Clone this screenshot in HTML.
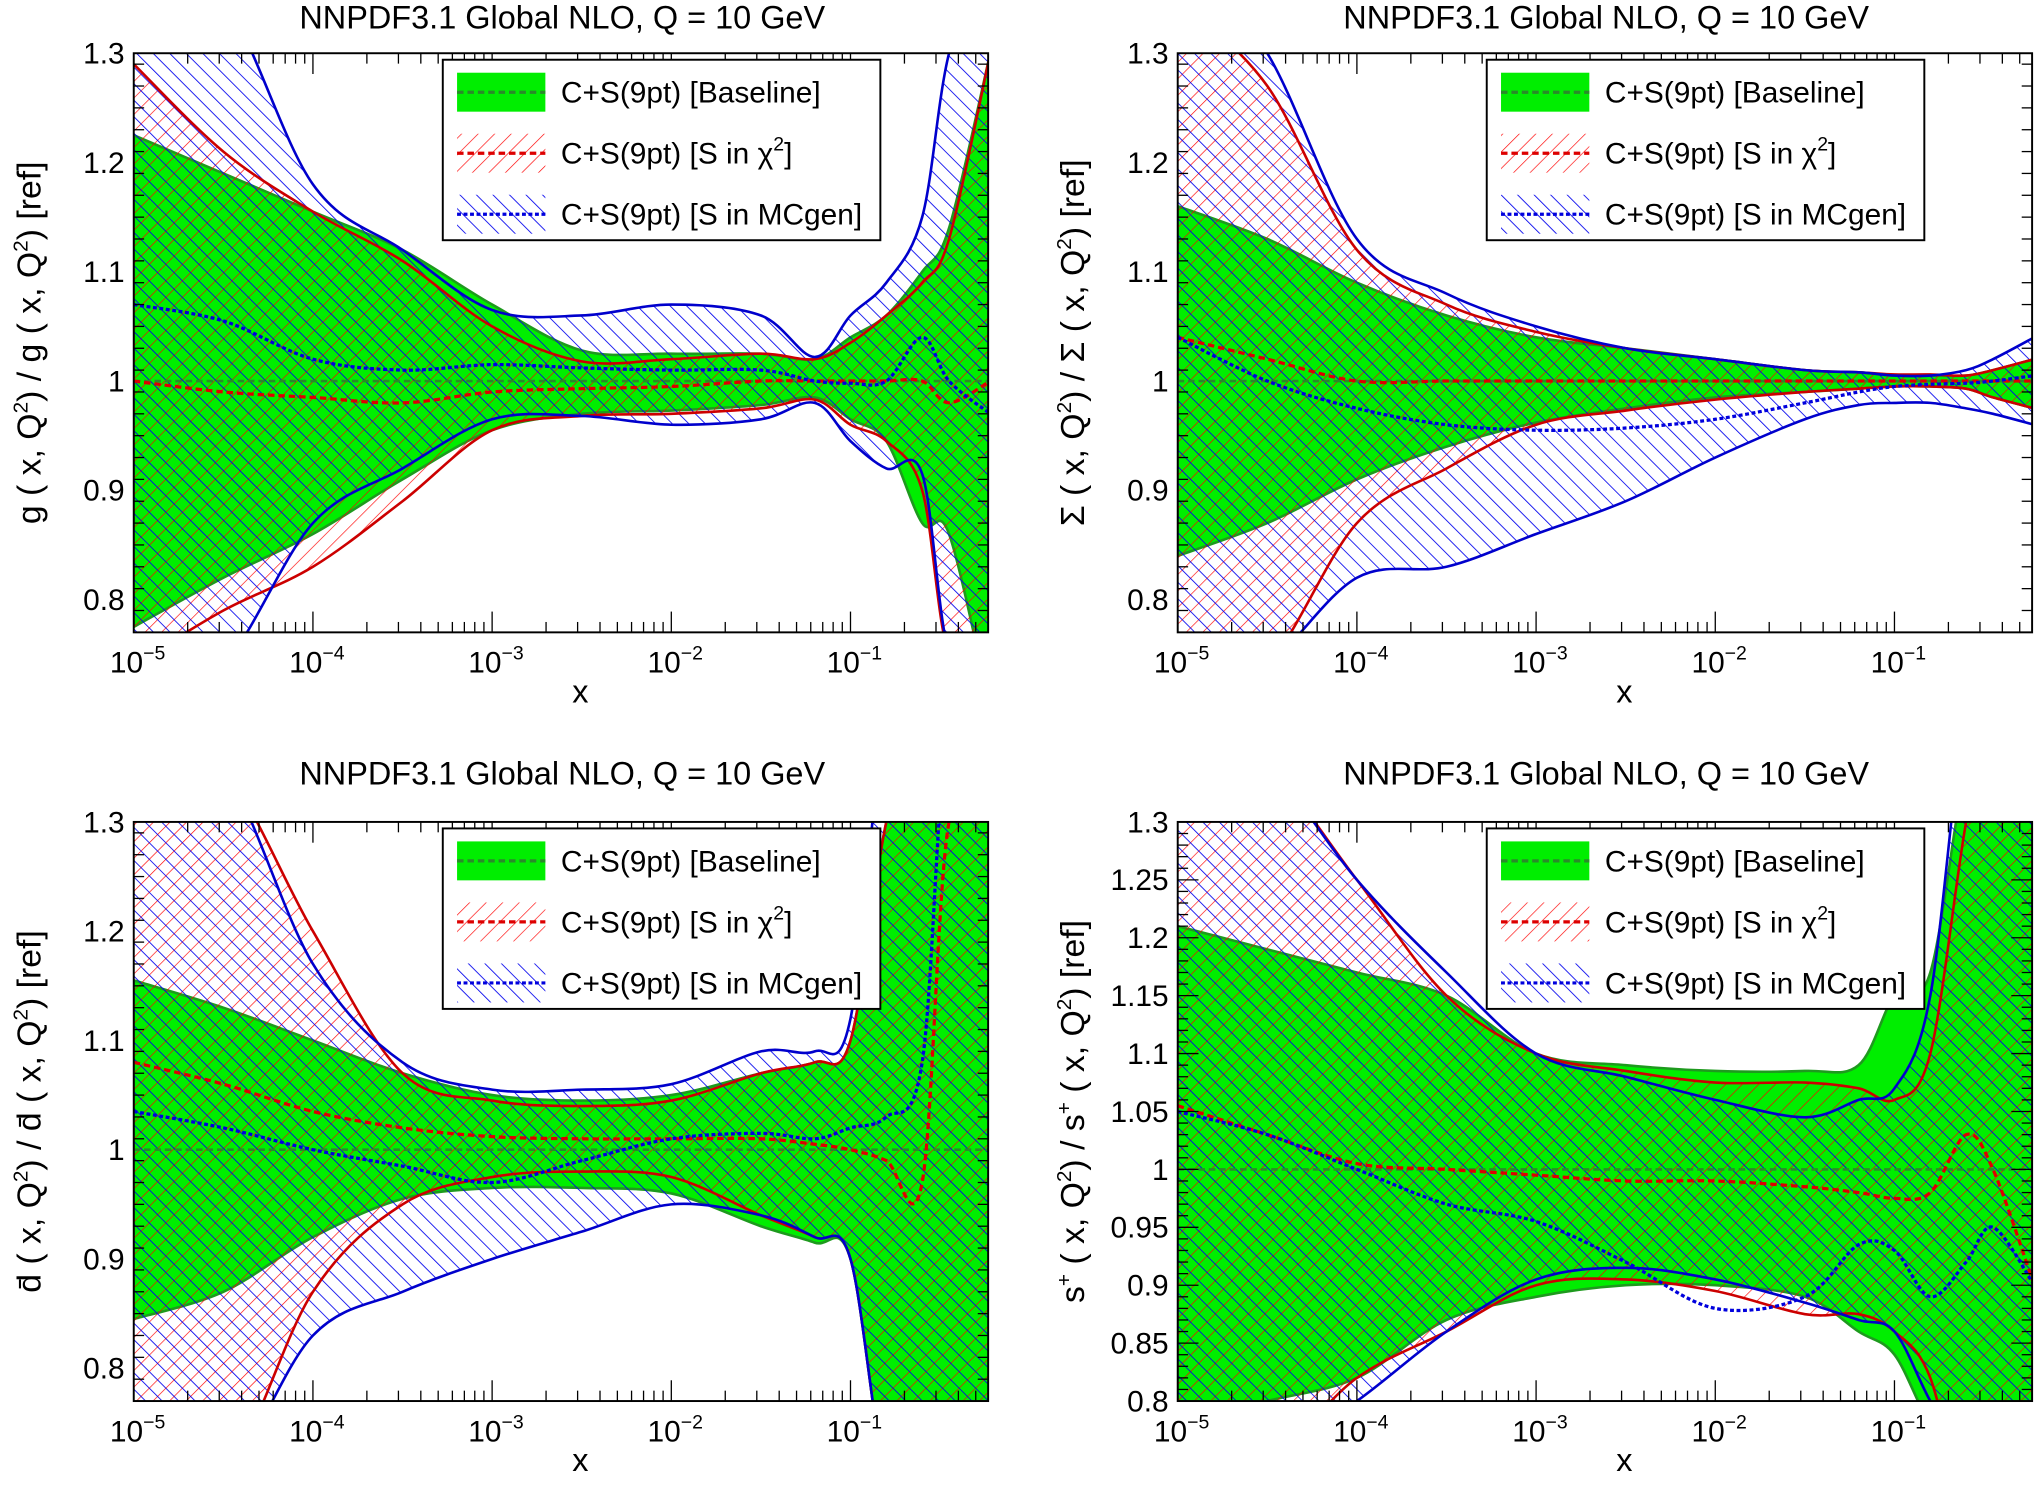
<!DOCTYPE html>
<html><head><meta charset="utf-8"><style>
html,body{margin:0;padding:0;background:#fff}
svg{display:block}
text{font-family:"Liberation Sans",sans-serif;fill:#000}
</style></head><body>
<svg id="fig" width="2036" height="1487" viewBox="0 0 1568 1145.2" xmlns="http://www.w3.org/2000/svg">
<defs>
<pattern id="hr" patternUnits="userSpaceOnUse" width="9" height="9" patternTransform="rotate(45)"><line x1="0" y1="0" x2="0" y2="9" stroke="#ff0000" stroke-width="1"/></pattern>
<pattern id="hb" patternUnits="userSpaceOnUse" width="9" height="9" patternTransform="rotate(-45)"><line x1="0" y1="0" x2="0" y2="9" stroke="#0000ee" stroke-width="1.3"/></pattern>
</defs>
</svg>
<script>
const xLog=[-5,-4.5,-4,-3.5,-3,-2.5,-2,-1.5,-1.2,-1,-0.8,-0.6,-0.45,-0.22];
// gluon
const gGreenUp=[1.225,1.19,1.155,1.12,1.07,1.028,1.025,1.025,1.02,1.04,1.06,1.1,1.14,1.3];
const gGreenLo=[0.775,0.82,0.86,0.91,0.955,0.97,0.973,0.978,0.985,0.965,0.945,0.87,0.86,0.7];
const gRedUp=[1.29,1.21,1.155,1.11,1.05,1.018,1.02,1.025,1.02,1.035,1.06,1.09,1.13,1.3];
const gRedLo=[0.74,0.79,0.83,0.89,0.955,0.968,0.97,0.975,0.983,0.96,0.945,0.9,0.75,0.75];
const gRedMid=[1.0,0.99,0.985,0.98,0.99,0.993,0.995,1.0,1.0,1.0,1.0,1.0,0.98,1.0];
const gBlueUp=[1.4,1.35,1.18,1.12,1.065,1.06,1.07,1.06,1.022,1.06,1.09,1.15,1.3,1.4];
const gBlueLo=[0.7,0.74,0.87,0.92,0.965,0.968,0.96,0.965,0.98,0.945,0.92,0.915,0.75,0.7];
const gBlueMid=[1.07,1.055,1.02,1.01,1.015,1.012,1.01,1.01,1.0,0.998,1.0,1.04,1.0,0.97];
// singlet
const sGreenUp=[1.16,1.13,1.09,1.06,1.04,1.03,1.02,1.01,1.008,1.005,1.005,1.005,1.01,1.02];
const sGreenLo=[0.84,0.87,0.91,0.94,0.962,0.975,0.985,0.99,0.993,0.995,0.995,0.993,0.985,0.975];
const sRedUp=[1.35,1.27,1.12,1.07,1.045,1.03,1.02,1.01,1.008,1.006,1.006,1.005,1.01,1.02];
const sRedLo=[0.7,0.74,0.87,0.92,0.96,0.973,0.983,0.99,0.993,0.995,0.995,0.993,0.985,0.975];
const sRedMid=[1.04,1.02,1.0,1.0,1.0,1.0,1.0,1.0,1.0,1.0,1.0,1.0,1.0,1.0];
const sBlueUp=[1.4,1.3,1.13,1.08,1.05,1.03,1.02,1.01,1.008,1.005,1.005,1.01,1.02,1.04];
const sBlueLo=[0.7,0.74,0.82,0.83,0.86,0.89,0.93,0.965,0.978,0.98,0.98,0.975,0.97,0.96];
const sBlueMid=[1.04,1.0,0.975,0.96,0.955,0.957,0.965,0.98,0.99,0.995,0.997,0.998,1.0,1.005];
// dbar
const dGreenUp=[1.155,1.13,1.1,1.07,1.05,1.045,1.05,1.07,1.08,1.1,1.3,1.4,1.4,1.4];
const dGreenLo=[0.845,0.87,0.92,0.955,0.965,0.965,0.96,0.93,0.915,0.9,0.7,0.7,0.7,0.7];
const dRedUp=[1.4,1.35,1.2,1.07,1.045,1.04,1.045,1.07,1.08,1.1,1.3,1.4,1.4,1.4];
const dRedLo=[0.7,0.7,0.87,0.95,0.975,0.98,0.975,0.94,0.92,0.9,0.7,0.7,0.7,0.7];
const dRedMid=[1.08,1.06,1.035,1.02,1.012,1.01,1.01,1.01,1.005,1.0,0.99,0.97,1.3,1.3];
const dBlueUp=[1.4,1.35,1.17,1.08,1.055,1.055,1.06,1.09,1.09,1.12,1.4,1.4,1.4,1.4];
const dBlueLo=[0.7,0.7,0.83,0.87,0.9,0.925,0.95,0.94,0.92,0.9,0.7,0.7,0.7,0.7];
const dBlueMid=[1.035,1.02,1.0,0.985,0.97,0.99,1.01,1.015,1.01,1.02,1.03,1.08,1.4,1.4];
// s+
const pGreenUp=[1.21,1.19,1.17,1.15,1.1,1.09,1.085,1.085,1.09,1.15,1.17,1.35,1.4,1.4];
const pGreenLo=[0.78,0.8,0.82,0.87,0.89,0.9,0.9,0.89,0.86,0.84,0.78,0.75,0.75,0.75];
const pRedUp=[1.4,1.35,1.25,1.15,1.1,1.085,1.075,1.075,1.07,1.06,1.1,1.3,1.4,1.4];
const pRedLo=[0.75,0.75,0.82,0.86,0.9,0.905,0.895,0.875,0.875,0.86,0.82,0.7,0.7,0.7];
const pRedMid=[1.055,1.03,1.005,1.0,0.995,0.99,0.99,0.985,0.98,0.975,0.98,1.03,1.0,0.9];
const pBlueUp=[1.4,1.35,1.25,1.17,1.1,1.08,1.06,1.045,1.06,1.07,1.15,1.4,1.4,1.4];
const pBlueLo=[0.75,0.75,0.8,0.86,0.905,0.915,0.905,0.885,0.87,0.86,0.8,0.75,0.75,0.75];
const pBlueMid=[1.05,1.03,1.0,0.97,0.955,0.92,0.88,0.89,0.935,0.93,0.89,0.92,0.95,0.9];
const xTickExp=[-5,-4,-3,-2,-1];
const yTicksA=[0.8,0.9,1,1.1,1.2,1.3];
const yTicksB=[0.8,0.85,0.9,0.95,1,1.05,1.1,1.15,1.2,1.25,1.3];

const NS="http://www.w3.org/2000/svg";
const svg=document.getElementById('fig');
function mk(tag,attrs,parent){const e=document.createElementNS(NS,tag);for(const k in attrs)e.setAttribute(k,attrs[k]);(parent||svg).appendChild(e);return e;}
function smooth(pts){let d='M'+pts[0][0]+','+pts[0][1];for(let i=0;i<pts.length-1;i++){const p0=pts[Math.max(0,i-1)],p1=pts[i],p2=pts[i+1],p3=pts[Math.min(pts.length-1,i+2)];
const c1=[p1[0]+(p2[0]-p0[0])/6,p1[1]+(p2[1]-p0[1])/6],c2=[p2[0]-(p3[0]-p1[0])/6,p2[1]-(p3[1]-p1[1])/6];d+=' C'+c1+' '+c2+' '+p2;}return d;}
function revPath(pts){return smooth(pts.slice().reverse()).replace(/^M/,'L');}

let pid=0;
function panel(c){
  pid++;
  const x0=c.x0,x1=c.x0+658,y0=c.y0,y1=c.y0+446;
  const X=l=>x0+(l+5)*138;
  const Y=v=>y1-(v-c.ymin)/(c.ymax-c.ymin)*(y1-y0);
  const g=mk('g',{});
  
  
  const cp=mk('clipPath',{id:'cp'+pid},g);mk('rect',{x:x0,y:y0,width:658,height:446},cp);
  const plot=mk('g',{'clip-path':'url(#cp'+pid+')'},g);
  const P=arr=>xLog.map((l,i)=>[X(l),Y(arr[i])]);
  const band=(up,lo)=>smooth(P(up))+' '+revPath(P(lo))+' Z';
  const gb=mk('path',{d:band(c.gU,c.gL),fill:'#00ee00',stroke:'#1e9a1e','stroke-width':2},plot);
  
  const rb=mk('path',{d:band(c.rU,c.rL),fill:'url(#hr)'},plot);
  
  const bb=mk('path',{d:band(c.bU,c.bL),fill:'url(#hb)'},plot);
  
  const ln=(arr,col,w,dash,name)=>{const e=mk('path',{d:smooth(P(arr)),fill:'none',stroke:col,'stroke-width':w},plot);if(dash)e.setAttribute('stroke-dasharray',dash);
    };
  ln(c.rU,'#cc0000',2,null,'s-in-chi2-upper');ln(c.rL,'#cc0000',2,null,'s-in-chi2-lower');
  ln(c.bU,'#0000cc',2,null,'s-in-mcgen-upper');ln(c.bL,'#0000cc',2,null,'s-in-mcgen-lower');
  ln(xLog.map(()=>1),'#2a8a2a',2,'5,3','baseline-central');
  ln(c.rM,'#dd0000',2.5,'5,3','s-in-chi2-central');
  ln(c.bM,'#0000dd',2.5,'3,2','s-in-mcgen-central');
  mk('rect',{x:x0,y:y0,width:658,height:446,fill:'none',stroke:'#000','stroke-width':1.5},g);
  for(let e=-5;e<=-1;e++){for(let m=1;m<10;m++){const l=e+Math.log10(m);const xx=X(l);if(xx>x1)continue;const len=m===1?16:8;
    mk('line',{x1:xx,y1:y1,x2:xx,y2:y1-len,stroke:'#000','stroke-width':1},g);mk('line',{x1:xx,y1:y0,x2:xx,y2:y0+len,stroke:'#000','stroke-width':1},g);}}
  xTickExp.forEach(e=>{const t=mk('text',{x:X(e)+3,y:y1+31,'font-size':23,'text-anchor':'middle'},g);t.innerHTML='10<tspan dy="-10" font-size="15">−'+(-e)+'</tspan>';
    });
  const xt=mk('text',{x:x0+344,y:y1+54,'font-size':25,'text-anchor':'middle'},g);xt.textContent='x';
  
  const step=c.minor;
  for(let v=c.ymin;v<=c.ymax+1e-9;v+=step){const yy=Y(v);const maj=c.ticks.some(t=>Math.abs(t-v)<1e-6);const len=maj?16:8;
    mk('line',{x1:x0,y1:yy,x2:x0+len,y2:yy,stroke:'#000','stroke-width':1},g);mk('line',{x1:x1,y1:yy,x2:x1-len,y2:yy,stroke:'#000','stroke-width':1},g);}
  c.ticks.forEach(v=>{const t=mk('text',{x:x0-7,y:Y(v)+8,'font-size':23,'text-anchor':'end'},g);t.textContent=String(v);
    });
  const yt=mk('text',{x:0,y:0,'font-size':26,'text-anchor':'middle',transform:'translate('+(x0-72)+','+(y0+223)+') rotate(-90)'},g);yt.innerHTML=c.ylabel;
  
  const tt=mk('text',{x:x0+330,y:c.ty,'font-size':25,'text-anchor':'middle'},g);tt.textContent='NNPDF3.1 Global NLO, Q = 10 GeV';
  
  const lg=mk('g',{},g);
  const lx=x0+238,ly=y0+5;
  mk('rect',{x:lx,y:ly,width:337,height:139,fill:'#fff',stroke:'#000','stroke-width':1.5},lg);
  const rows=[['#00ee00','#2a8a2a','5,3','C+S(9pt) [Baseline]','legend-entry-baseline'],['url(#hr)','#dd0000','5,3','C+S(9pt) [S in χ<tspan dy="-10" font-size="15">2</tspan><tspan dy="10">]</tspan>','legend-entry-chi2'],['url(#hb)','#0000dd','3,2','C+S(9pt) [S in MCgen]','legend-entry-mcgen']];
  rows.forEach((r,i)=>{const cy=ly+25+i*47;const eg=mk('g',{},lg);
    mk('rect',{x:lx+11,y:cy-15,width:68,height:30,fill:r[0]},eg);
    mk('line',{x1:lx+11,y1:cy,x2:lx+79,y2:cy,stroke:r[1],'stroke-width':2.5,'stroke-dasharray':r[2]},eg);
    const t=mk('text',{x:lx+91,y:cy+8,'font-size':23},eg);t.innerHTML=r[3];});
}
const sup2='<tspan dy="-10" font-size="16">2</tspan><tspan dy="10">)</tspan>';
panel({name:'gluon-panel',x0:103,y0:41,ty:22,ymin:0.77,ymax:1.3,minor:0.02,ticks:yTicksA,gU:gGreenUp,gL:gGreenLo,rU:gRedUp,rL:gRedLo,rM:gRedMid,bU:gBlueUp,bL:gBlueLo,bM:gBlueMid,
 ylabel:'g ( x, Q'+sup2+' / g ( x, Q'+sup2+' [ref]'});
panel({name:'singlet-panel',x0:907,y0:41,ty:22,ymin:0.77,ymax:1.3,minor:0.02,ticks:yTicksA,gU:sGreenUp,gL:sGreenLo,rU:sRedUp,rL:sRedLo,rM:sRedMid,bU:sBlueUp,bL:sBlueLo,bM:sBlueMid,
 ylabel:'Σ ( x, Q'+sup2+' / Σ ( x, Q'+sup2+' [ref]'});
panel({name:'dbar-panel',x0:103,y0:633,ty:604,ymin:0.77,ymax:1.3,minor:0.02,ticks:yTicksA,gU:dGreenUp,gL:dGreenLo,rU:dRedUp,rL:dRedLo,rM:dRedMid,bU:dBlueUp,bL:dBlueLo,bM:dBlueMid,
 ylabel:'d̄ ( x, Q'+sup2+' / d̄ ( x, Q'+sup2+' [ref]'});
panel({name:'splus-panel',x0:907,y0:633,ty:604,ymin:0.8,ymax:1.3,minor:0.01,ticks:yTicksB,gU:pGreenUp,gL:pGreenLo,rU:pRedUp,rL:pRedLo,rM:pRedMid,bU:pBlueUp,bL:pBlueLo,bM:pBlueMid,
 ylabel:'s<tspan dy="-10" font-size="16">+</tspan><tspan dy="10"> ( x, Q</tspan>'+sup2+' / s<tspan dy="-10" font-size="16">+</tspan><tspan dy="10"> ( x, Q</tspan>'+sup2+' [ref]'});
</script>
</body></html>
